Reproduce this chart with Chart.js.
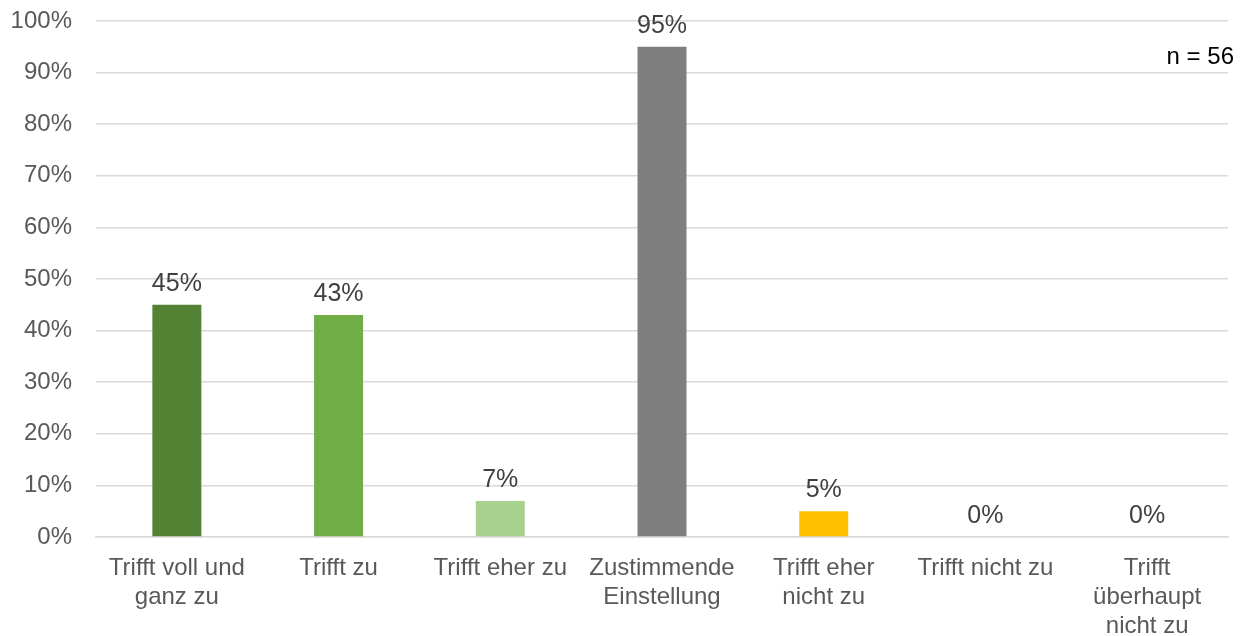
<!DOCTYPE html>
<html>
<head>
<meta charset="utf-8">
<script src="https://cdn.jsdelivr.net/npm/chart.js@4.4.1/dist/chart.umd.min.js"></script>
<style>
  html, body { margin: 0; padding: 0; background: #ffffff; }
  #wrap { width: 1244px; height: 636px; position: relative; }
</style>
</head>
<body>
<div id="wrap"><canvas id="chart" width="1244" height="636"></canvas></div>
<script>
// Antwortkategorien und Anteile in Prozent
const categories = [
    ["Trifft voll und", "ganz zu"],
    "Trifft zu",
    "Trifft eher zu",
    ["Zustimmende", "Einstellung"],
    ["Trifft eher", "nicht zu"],
    "Trifft nicht zu",
    ["Trifft", "überhaupt", "nicht zu"]
];
const shares = [45, 43, 7, 95, 5, 0, 0];
const barColors = ["#548235", "#70ad47", "#a9d18e", "#7f7f7f", "#ffc000", "#bfbfbf", "#bfbfbf"];
const yTicks = [0, 10, 20, 30, 40, 50, 60, 70, 80, 90, 100];
const sampleSize = 56;

const FONT = "'Liberation Sans', Arial, sans-serif";

// Werte über den Balken und n-Angabe
const valueLabels = {
    id: "valueLabels",
    afterDatasetsDraw(chart) {
        const { ctx, chartArea } = chart;
        const meta = chart.getDatasetMeta(0);
        ctx.save();
        ctx.font = "25px " + FONT;
        ctx.fillStyle = "#404040";
        ctx.textAlign = "center";
        ctx.textBaseline = "middle";
        meta.data.forEach((bar, i) => {
            ctx.fillText(shares[i] + "%", bar.x, bar.y - 21);
        });
        ctx.font = "24px " + FONT;
        ctx.fillStyle = "#000000";
        ctx.textAlign = "right";
        ctx.fillText("n = " + sampleSize, chartArea.right + 6, 57);
        ctx.restore();
    }
};

new Chart(document.getElementById("chart"), {
    type: "bar",
    data: {
        labels: categories,
        datasets: [{
            data: shares,
            backgroundColor: barColors,
            borderWidth: 0,
            barPercentage: 0.303,
            categoryPercentage: 1
        }]
    },
    options: {
        responsive: false,
        animation: false,
        layout: { padding: { top: 21, right: 16, bottom: 0, left: 0 } },
        plugins: {
            legend: { display: false },
            tooltip: { enabled: false }
        },
        scales: {
            x: {
                grid: { display: false },
                border: { display: true, color: "#d9d9d9", width: 1.5 },
                ticks: {
                    color: "#595959",
                    font: { family: FONT, size: 24, lineHeight: 1.21 },
                    padding: 9,
                    maxRotation: 0,
                    autoSkip: false
                },
                afterFit(scale) {
                    scale.height = 99;
                    scale.paddingLeft = 0;
                    scale.paddingRight = 0;
                }
            },
            y: {
                min: 0,
                max: 100,
                afterBuildTicks(scale) {
                    scale.ticks = yTicks.map(v => ({ value: v }));
                },
                grid: { color: "#d9d9d9", lineWidth: 1.5, drawTicks: false },
                border: { display: false },
                ticks: {
                    color: "#595959",
                    font: { family: FONT, size: 24 },
                    padding: 24,
                    callback: (v) => v + "%"
                },
                afterFit(scale) {
                    scale.width = 96;
                    scale.paddingTop = 0;
                    scale.paddingBottom = 0;
                }
            }
        }
    },
    plugins: [valueLabels]
});
</script>
</body>
</html>
